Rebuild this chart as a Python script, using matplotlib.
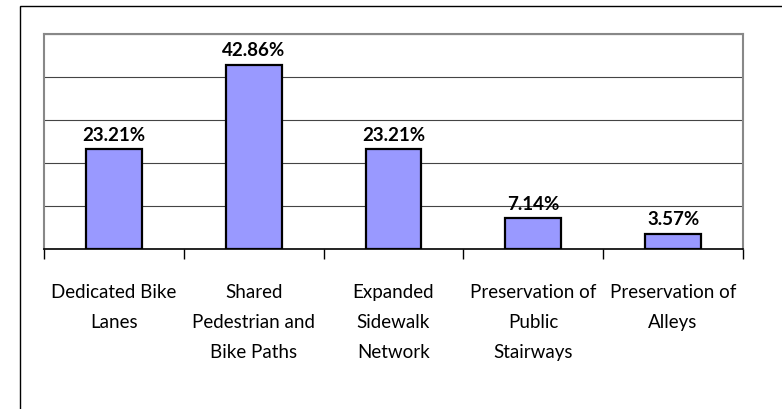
import matplotlib
matplotlib.use("Agg")
import matplotlib.pyplot as plt
from matplotlib.patches import Rectangle

categories = ["Dedicated Bike\nLanes", "Shared\nPedestrian and\nBike Paths",
              "Expanded\nSidewalk\nNetwork", "Preservation of\nPublic\nStairways",
              "Preservation of\nAlleys"]
values = [23.21, 42.86, 23.21, 7.14, 3.57]
labels = ["23.21%", "42.86%", "23.21%", "7.14%", "3.57%"]

W, H = 782, 409
fig = plt.figure(figsize=(W / 100, H / 100), dpi=100)
fam = ["Lato", "DejaVu Sans"]

# outer frame
fig.patches.append(Rectangle((20 / W, -0.1), 2, (H - 6) / H + 0.1, transform=fig.transFigure,
                             fill=False, edgecolor="black", linewidth=1.0))

left, top, right, bottom = 44, 34, 743, 249
ax = fig.add_axes([left / W, 1 - bottom / H, (right - left) / W, (bottom - top) / H])
x = list(range(len(values)))
ax.bar(x, values, width=0.4, color="#9999FF", edgecolor="black", linewidth=1.6, zorder=3)
ax.set_xlim(-0.5, len(values) - 0.5)
ax.set_ylim(0, 50)
ax.set_yticks([0, 10, 20, 30, 40, 50])
ax.yaxis.grid(True, color="#444444", linewidth=0.8)
ax.set_axisbelow(True)
ax.tick_params(axis="y", left=False, labelleft=False)
for s in ["left", "top", "right"]:
    ax.spines[s].set_color("#888888")
    ax.spines[s].set_linewidth(1.5)
ax.spines["bottom"].set_color("black")
ax.spines["bottom"].set_linewidth(1.2)

ax.set_xticks([i - 0.5 for i in range(len(values) + 1)], minor=False)
ax.set_xticklabels([])
ax.tick_params(axis="x", direction="out", length=7, width=1, color="black")
ax.set_xticks(x, minor=True)
ax.set_xticklabels(categories, minor=True, fontsize=13.5, family=fam, linespacing=1.95,
                   va="top")
ax.tick_params(axis="x", which="minor", length=0, pad=25)

for xi, v, lab in zip(x, values, labels):
    ax.annotate(lab, (xi, v), xytext=(0, 4), textcoords="offset points",
                ha="center", va="bottom", fontsize=13.5, fontweight="bold", family=fam)

fig.savefig("out.png", dpi=100)
